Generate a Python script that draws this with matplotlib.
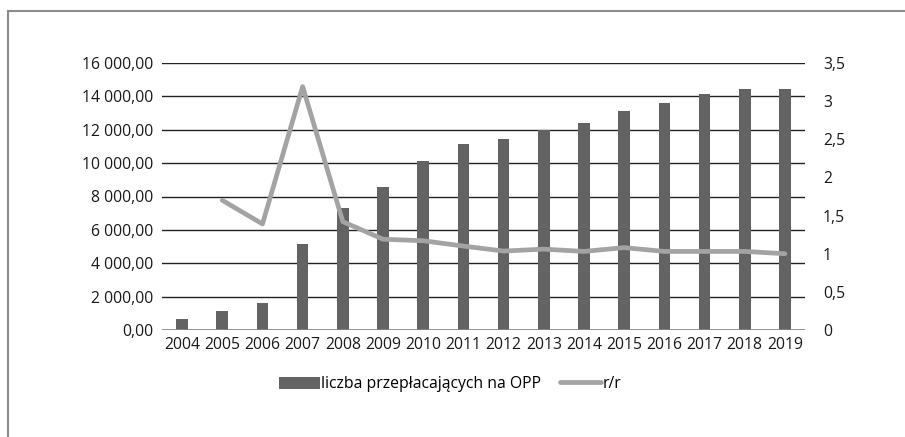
import matplotlib.pyplot as plt
import matplotlib.lines as mlines
import numpy as np
from matplotlib.ticker import FuncFormatter

plt.rcParams['font.family'] = ['Open Sans', 'DejaVu Sans']

# data
years = ['2004', '2005', '2006', '2007', '2008', '2009', '2010', '2011',
         '2012', '2013', '2014', '2015', '2016', '2017', '2018', '2019']
payers = [660, 1140, 1600, 5135, 7310, 8570, 10130, 11130,
          11450, 12000, 12400, 13100, 13590, 14120, 14430, 14430]
yoy = [np.nan, 1.70, 1.39, 3.19, 1.42, 1.19, 1.17, 1.10,
       1.035, 1.06, 1.03, 1.08, 1.03, 1.03, 1.03, 1.0]

bar_color = '#636363'
line_color = '#a3a3a3'
fs = 11.3

fig = plt.figure(figsize=(9.05, 4.37), dpi=100)
ax = fig.add_axes([162 / 905, 1 - 330 / 437, 643 / 905, 267 / 437])
x = np.arange(len(years))

ax.bar(x, payers, width=0.29, color=bar_color, zorder=3,
       label='liczba przepłacających na OPP')
ax.set_ylim(0, 16000)
ax.set_xlim(-0.5, len(years) - 0.5)
ax.set_yticks(np.arange(0, 16001, 2000))
ax.yaxis.set_major_formatter(FuncFormatter(
    lambda v, p: '{:,.2f}'.format(v).replace(',', ' ').replace('.', ',')))
ax.grid(axis='y', color='#222222', linewidth=1.0, zorder=0)
ax.set_xticks(x)
ax.set_xticklabels(years)
for s in ax.spines.values():
    s.set_visible(False)
ax.tick_params(length=0, labelsize=fs, colors='#1a1a1a')
ax.tick_params(axis='y', pad=6)
ax.tick_params(axis='x', pad=5)
ax.axhline(0, color='#888888', linewidth=1.2, zorder=4)

ax2 = ax.twinx()
ax2.plot(x, yoy, color=line_color, linewidth=3.4, zorder=5,
         solid_capstyle='round', label='r/r')
ax2.set_ylim(0, 3.5)
ax2.set_yticks(np.arange(0, 3.51, 0.5))
ax2.yaxis.set_major_formatter(FuncFormatter(
    lambda v, p: ('{:g}'.format(v)).replace('.', ',')))
for s in ax2.spines.values():
    s.set_visible(False)
ax2.tick_params(length=0, labelsize=fs, colors='#1a1a1a', pad=13)

h1, l1 = ax.get_legend_handles_labels()
h2, l2 = ax2.get_legend_handles_labels()
fig.legend(h1 + h2, l1 + l2, loc='center', bbox_to_anchor=(450 / 905, 1 - 384 / 437),
           ncol=2, frameon=False, fontsize=fs, handlelength=2.6,
           handleheight=0.8, handletextpad=0.1, columnspacing=1.2)

# outer frame (cropped box)
fig.add_artist(mlines.Line2D([8 / 905, 1], [1 - 10.5 / 437] * 2,
                             color='#8c8c8c', linewidth=1.5))
fig.add_artist(mlines.Line2D([8 / 905] * 2, [0, 1 - 10.5 / 437],
                             color='#8c8c8c', linewidth=1.5))

fig.savefig('out.png', dpi=100)
